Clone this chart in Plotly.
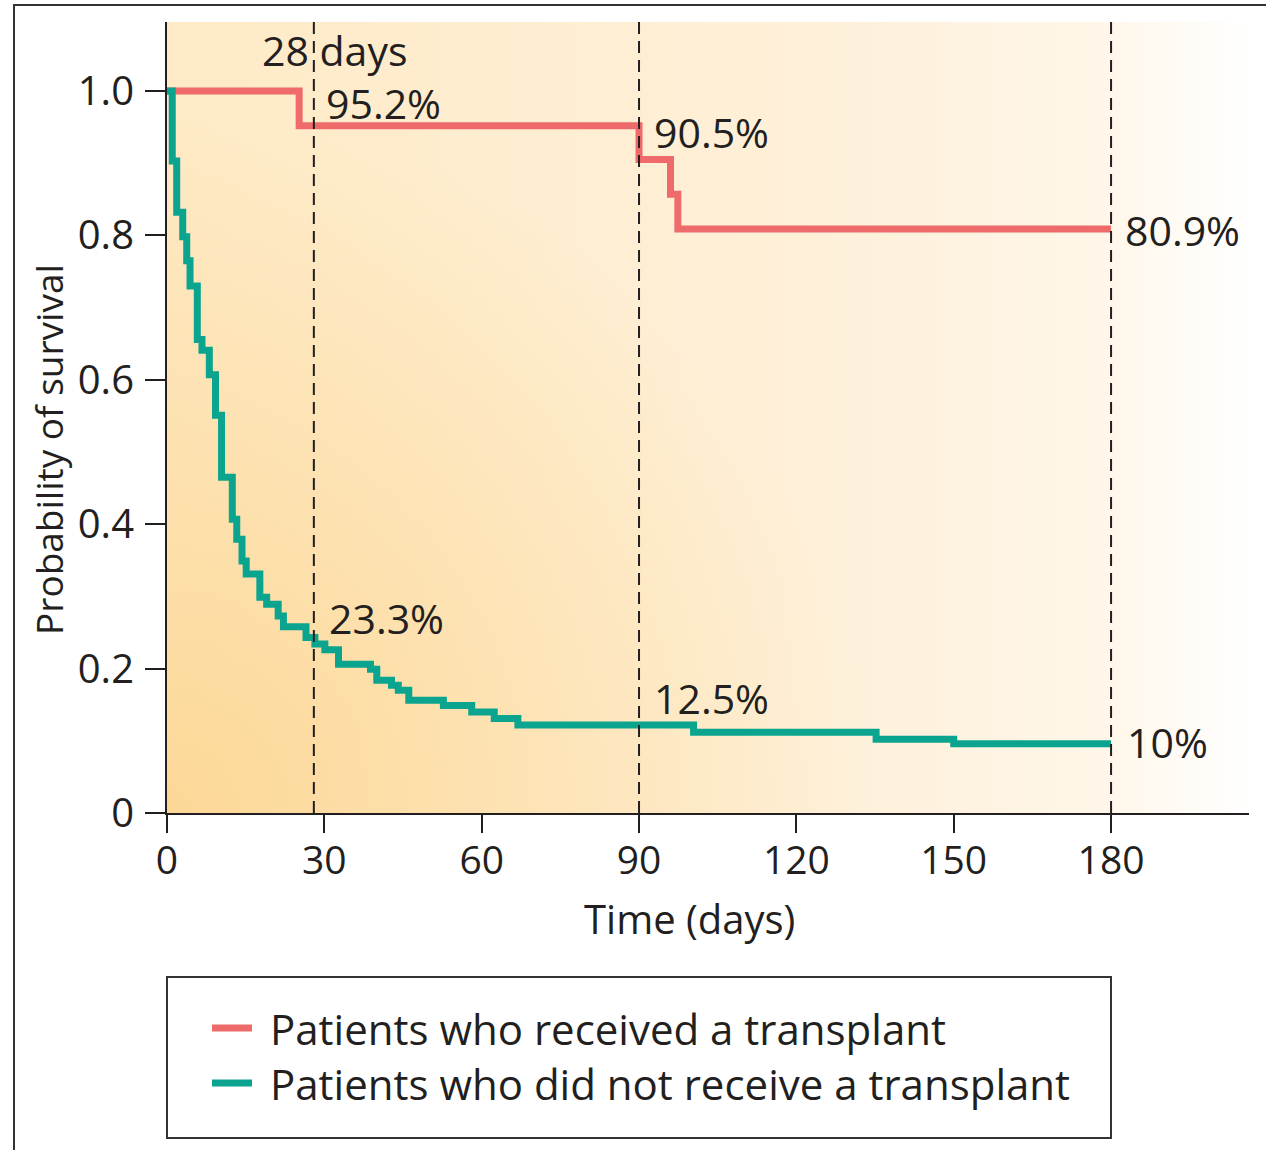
import base64

import plotly.graph_objects as go

# survival curves (days, probability)
transplant_days = [0, 25.2, 90.0, 96.0, 97.4, 180]
transplant_surv = [1.0, 0.952, 0.905, 0.857, 0.809, 0.809]

no_transplant_days = [0, 1.0, 1.85, 3.0, 3.76, 4.39, 5.78, 6.67, 8.07, 9.25,
                      10.4, 12.45, 13.3, 14.3, 15.1, 17.7, 19.0, 21.2, 22.2,
                      26.5, 28.2, 30.1, 32.7, 38.8, 40.0, 42.8, 44.1, 46.1,
                      52.7, 58.1, 62.4, 66.9, 100.4, 135.2, 150.0, 180]
no_transplant_surv = [1.0, 0.903, 0.832, 0.798, 0.765, 0.730, 0.656, 0.641,
                      0.607, 0.551, 0.465, 0.407, 0.379, 0.349, 0.331, 0.299,
                      0.289, 0.273, 0.258, 0.243, 0.234, 0.226, 0.206, 0.199,
                      0.184, 0.177, 0.170, 0.156, 0.149, 0.140, 0.131, 0.122,
                      0.112, 0.102, 0.096, 0.096]

marker_days = [28, 90, 180]

# labels on the chart
pct_labels_x = [30.0, 92.5, 182.3, 30.6, 92.5, 182.7]
pct_labels_y = [0.983, 0.943, 0.807, 0.270, 0.159, 0.098]
pct_labels = ["95.2%", "90.5%", "80.9%", "23.3%", "12.5%", "10%"]

x_ticks = [0, 30, 60, 90, 120, 150, 180]
y_ticks = [0, 0.2, 0.4, 0.6, 0.8, 1.0]
y_tick_text = ["0", "0.2", "0.4", "0.6", "0.8", "1.0"]

legend_names = ["Patients who received a transplant",
                "Patients who did not receive a transplant"]

RED = "#EE6A6B"
TEAL = "#0BA58F"
INK = "#231F20"
FONT = "Open Sans"

W, H = 1266, 1150
L, R, T, B = 167, 17, 22, 337
PW, PH = W - L - R, H - T - B
X_MAX = 206.3
Y_MAX = 1.0956


def px_x(px):
    return (px - L) / PW


def px_y(py):
    return (H - B - py) / PH


# background gradient (orange in the lower left, fading to white on the right)
svg = f'''<svg xmlns="http://www.w3.org/2000/svg" width="{PW}" height="{PH}" viewBox="0 0 {PW} {PH}" preserveAspectRatio="none">
<defs>
<linearGradient id="h" x1="0" y1="0" x2="1" y2="0">
<stop offset="0" stop-color="#FEEAC6"/>
<stop offset="0.6" stop-color="#FEF0D9"/>
<stop offset="0.86" stop-color="#FFF6E8"/>
<stop offset="1" stop-color="#FFFFFF"/>
</linearGradient>
<radialGradient id="r" gradientUnits="userSpaceOnUse" cx="0" cy="{PH}" r="700">
<stop offset="0" stop-color="#FCD897" stop-opacity="1"/>
<stop offset="1" stop-color="#FCD897" stop-opacity="0"/>
</radialGradient>
</defs>
<rect width="{PW}" height="{PH}" fill="url(#h)"/>
<rect width="{PW}" height="{PH}" fill="url(#r)"/>
</svg>'''
bg_src = "data:image/svg+xml;base64," + base64.b64encode(svg.encode()).decode()

fig = go.Figure()

fig.add_trace(go.Scatter(
    x=transplant_days, y=transplant_surv, mode="lines", line_shape="hv",
    line=dict(color=RED, width=7), name=legend_names[0], showlegend=False,
))
fig.add_trace(go.Scatter(
    x=no_transplant_days, y=no_transplant_surv, mode="lines", line_shape="hv",
    line=dict(color=TEAL, width=7), name=legend_names[1], showlegend=False,
))

shapes = []
for d in marker_days:
    shapes.append(dict(type="line", xref="x", yref="paper", x0=d, x1=d, y0=0, y1=1,
                       line=dict(color=INK, width=2, dash="12px,7px"), layer="above"))

# outer frame, cut by the picture edges
shapes.append(dict(type="rect", xref="paper", yref="paper",
                   x0=px_x(14), x1=px_x(1275), y0=px_y(1160), y1=px_y(5),
                   line=dict(color="#333333", width=2)))

# legend box and samples
shapes.append(dict(type="rect", xref="paper", yref="paper",
                   x0=px_x(167), x1=px_x(1111), y0=px_y(1138), y1=px_y(977),
                   line=dict(color="#333333", width=2)))
legend_rows = [1028, 1083]
for col, py in zip([RED, TEAL], legend_rows):
    shapes.append(dict(type="line", xref="paper", yref="paper",
                       x0=px_x(212), x1=px_x(252), y0=px_y(py), y1=px_y(py),
                       line=dict(color=col, width=7)))

lbl_font = dict(size=41, color=INK, family=FONT)
leg_font = dict(size=42, color=INK, family=FONT)
annotations = [dict(x=32.0, y=1.057, xref="x", yref="y", text="28 days",
                    showarrow=False, xanchor="center", yanchor="middle",
                    font=lbl_font)]
for x, y, t in zip(pct_labels_x, pct_labels_y, pct_labels):
    annotations.append(dict(x=x, y=y, xref="x", yref="y", text=t, showarrow=False,
                            xanchor="left", yanchor="middle", font=lbl_font))
for name, py in zip(legend_names, legend_rows):
    annotations.append(dict(x=px_x(268), y=px_y(py), xref="paper", yref="paper",
                            text=name, showarrow=False, xanchor="left",
                            yanchor="middle", font=leg_font))

# axis titles
annotations.append(dict(x=px_x(689), y=px_y(918), xref="paper", yref="paper",
                        text="Time (days)", showarrow=False, xanchor="center",
                        yanchor="middle",
                        font=dict(size=40, color=INK, family=FONT)))
annotations.append(dict(x=px_x(48), y=px_y(450), xref="paper", yref="paper",
                        text="Probability of survival", showarrow=False,
                        textangle=-90, xanchor="center", yanchor="middle",
                        font=dict(size=37, color=INK, family=FONT)))

fig.update_layout(
    width=W, height=H,
    margin=dict(l=L, r=R, t=T, b=B),
    paper_bgcolor="white",
    plot_bgcolor="rgba(0,0,0,0)",
    font=dict(family=FONT, color=INK),
    shapes=shapes,
    annotations=annotations,
    images=[dict(source=bg_src, xref="x", yref="y", x=0, y=Y_MAX,
                 sizex=X_MAX, sizey=Y_MAX, sizing="stretch", layer="below")],
    xaxis=dict(range=[0, X_MAX], tickvals=x_ticks, showgrid=False, zeroline=False,
               showline=True, linecolor=INK, linewidth=2, ticks="outside",
               ticklen=18, tickwidth=2, tickcolor=INK, ticklabelstandoff=-6,
               tickfont=dict(size=39, color=INK, family=FONT)),
    yaxis=dict(range=[0, Y_MAX], tickvals=y_ticks, ticktext=y_tick_text,
               showgrid=False, zeroline=False, showline=True, linecolor=INK,
               linewidth=2, ticks="outside", ticklen=20, tickwidth=2,
               tickcolor=INK, ticklabelstandoff=3,
               tickfont=dict(size=40, color=INK, family=FONT)),
)

fig.write_html("out.html", config={"displayModeBar": False},
               post_script="document.body.style.margin = '0';")
